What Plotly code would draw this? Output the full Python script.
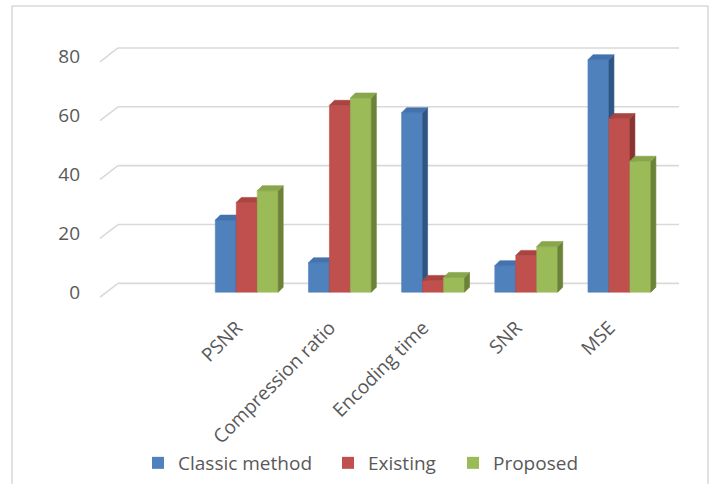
import plotly.graph_objects as go

# ---- data ----
categories = ["PSNR", "Compression ratio", "Encoding time", "SNR", "MSE"]
series_names = ["Classic method", "Existing", "Proposed"]
classic_method = [24.5, 10, 61, 9, 79]
existing = [30.5, 63.5, 4, 12.5, 59]
proposed = [34.5, 66, 5, 15.5, 44.5]
y_tick_values = [0, 20, 40, 60, 80]

# ---- style ----
front_colors = ["#4f81bd", "#c0504d", "#9bbb59"]
side_colors = ["#2f5585", "#8a3432", "#6b8237"]
top_colors = ["#4372ad", "#a94441", "#88a64b"]
text_color = "#595959"
grid_color = "#d9d9d9"
FONT = "Open Sans"
FS = 19

W, H = 712, 484
ML, MR, MT, MB = 107, 46, 45, 183
PW = W - ML - MR
PH = H - MT - MB
Y_RANGE = [-3, 84]
X_RANGE = [-1.5, len(categories) - 0.5]
px_per_y = PH / (Y_RANGE[1] - Y_RANGE[0])
px_per_x = PW / (X_RANGE[1] - X_RANGE[0])
LABEL_SHIFT = 10 / px_per_x   # category labels sit on the front floor edge (left of bars)
X2_RANGE = [X_RANGE[0] + LABEL_SHIFT, X_RANGE[1] + LABEL_SHIFT]

BW = 0.225                 # bar width in category units
DX = 5 / px_per_x          # depth offset (x) for 3D look
DY = 5 / px_per_y          # depth offset (y)

fig = go.Figure()

series = [classic_method, existing, proposed]
for s, vals in enumerate(series):
    fx, fy, sx, sy, tx, ty = [], [], [], [], [], []
    for i, v in enumerate(vals):
        xl = i + (s - 1) * BW - BW / 2
        xr = xl + BW
        fx += [xl, xr, xr, xl, xl, None]
        fy += [0, 0, v, v, 0, None]
        sx += [xr, xr + DX, xr + DX, xr, xr, None]
        sy += [0, DY, v + DY, v, 0, None]
        tx += [xl, xr, xr + DX, xl + DX, xl, None]
        ty += [v, v, v + DY, v + DY, v, None]
    for px_, py_, col in ((fx, fy, front_colors[s]), (sx, sy, side_colors[s]), (tx, ty, top_colors[s])):
        fig.add_trace(go.Scatter(
            x=px_, y=py_, mode="lines", fill="toself", fillcolor=col,
            line=dict(color=col, width=0.6), hoverinfo="skip", showlegend=False))

# legend entries (one legend box per entry so each can be placed like the original)
legend_ids = ["legend", "legend2", "legend3"]
legend_x_px = [138, 328, 453]
for s, name in enumerate(series_names):
    fig.add_trace(go.Bar(x=[None], y=[None], name=name, xaxis="x2", legend=legend_ids[s],
                         marker=dict(color=front_colors[s], line=dict(width=0))))

# gridlines (back wall + diagonal side wall)
back_off = 8.8 / px_per_y
front_off = 5 / px_per_y
x_front = (100 - ML) / PW
x_back = (118 - ML) / PW
x_end = (679 - ML) / PW
for v in y_tick_values:
    fig.add_shape(type="line", xref="paper", yref="y", x0=x_front, x1=x_back,
                  y0=v - front_off, y1=v + back_off, line=dict(color=grid_color, width=1.6), layer="below")
    fig.add_shape(type="line", xref="paper", yref="y", x0=x_back, x1=x_end,
                  y0=v + back_off, y1=v + back_off, line=dict(color=grid_color, width=1.6), layer="below")

# outer chart border
fig.add_shape(type="rect", xref="paper", yref="paper",
              x0=(12 - ML) / PW, x1=(708 - ML) / PW,
              y0=-(MB + 10) / PH, y1=1 + (MT - 6) / PH,
              line=dict(color="#d9d9d9", width=1.5), fillcolor="rgba(0,0,0,0)", layer="below")

legend_common = dict(orientation="h", xref="container", yref="container",
                     xanchor="left", y=1 - 463 / H, yanchor="middle",
                     font=dict(size=FS, color=text_color), bgcolor="rgba(0,0,0,0)",
                     borderwidth=0)

fig.update_layout(
    template="none",
    width=W, height=H,
    margin=dict(l=ML, r=MR, t=MT, b=MB, pad=0, autoexpand=False),
    paper_bgcolor="white", plot_bgcolor="white",
    font=dict(family=FONT, color=text_color, size=FS),
    showlegend=True,
    legend=dict(x=legend_x_px[0] / W, **legend_common),
    legend2=dict(x=legend_x_px[1] / W, **legend_common),
    legend3=dict(x=legend_x_px[2] / W, **legend_common),
    xaxis=dict(range=X_RANGE, showticklabels=False, showgrid=False, zeroline=False,
               showline=False, ticks="", automargin=False, fixedrange=True),
    xaxis2=dict(range=X2_RANGE, overlaying="x", side="bottom", anchor="y",
                tickmode="array", tickvals=list(range(len(categories))),
                ticktext=categories, tickangle=-45, showgrid=False, zeroline=False,
                showline=False, ticks="", ticklabelstandoff=11, automargin=False,
                tickfont=dict(size=FS, color=text_color), fixedrange=True),
    yaxis=dict(range=Y_RANGE, tickmode="array", tickvals=y_tick_values,
               showgrid=False, zeroline=False, showline=False, ticks="",
               ticklabelstandoff=26, automargin=False,
               tickfont=dict(size=FS, color=text_color), fixedrange=True),
)

fig.write_html("out.html")
